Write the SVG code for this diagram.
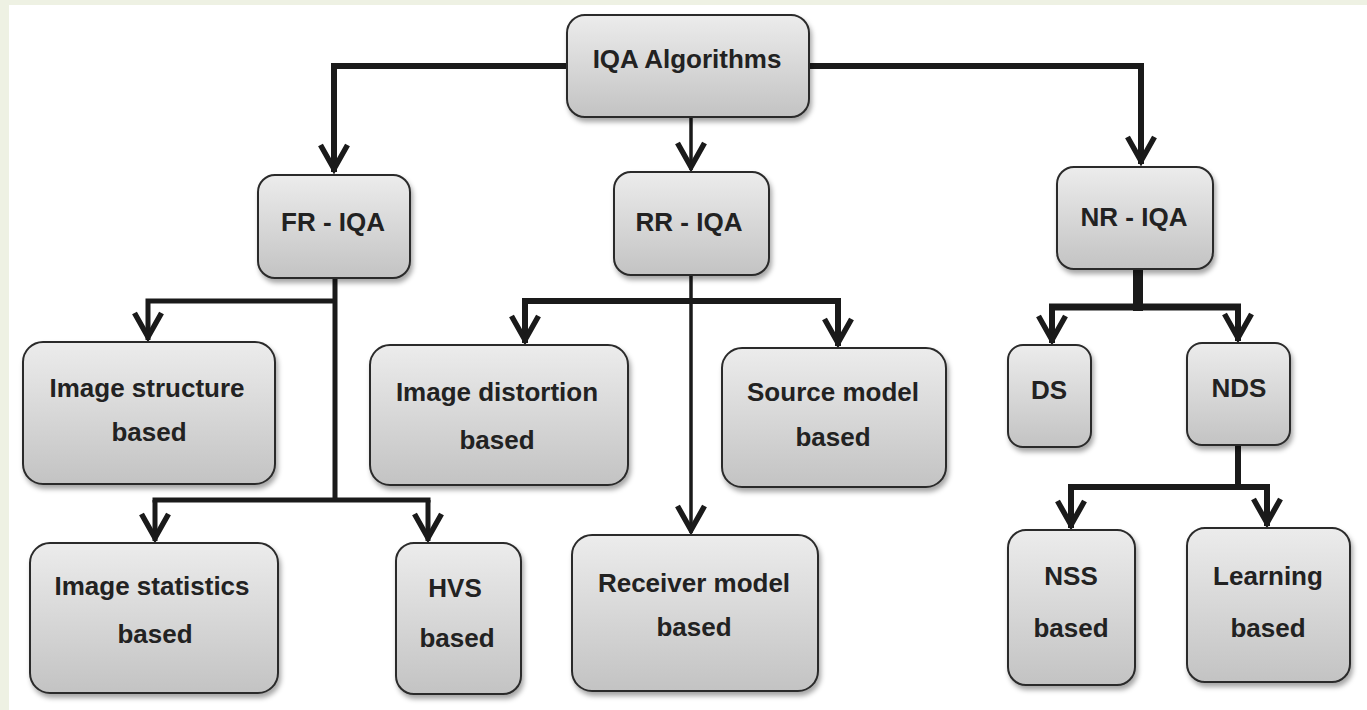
<svg xmlns="http://www.w3.org/2000/svg" width="1367" height="710" viewBox="0 0 1367 710">
<defs>
<linearGradient id="g" x1="0" y1="0" x2="0" y2="1">
<stop offset="0" stop-color="#ececec"/>
<stop offset="1" stop-color="#c3c3c3"/>
</linearGradient>
<filter id="sh" x="-10%" y="-10%" width="125%" height="130%">
<feDropShadow dx="2" dy="4" stdDeviation="2.5" flood-color="#000" flood-opacity="0.35"/>
</filter>
<marker id="arr" markerUnits="userSpaceOnUse" markerWidth="44" markerHeight="44" viewBox="-36 -22 44 44" refX="0" refY="0" orient="auto">
<path d="M-27,-13.5 L-3,0 L-27,13.5" fill="none" stroke="#1a1a1a" stroke-width="5.5" stroke-linejoin="miter"/>
</marker>
<style>
.box{fill:url(#g);stroke:#2b2b2b;stroke-width:2;filter:url(#sh)}
.t{font-family:"Liberation Sans",Arial,sans-serif;font-weight:bold;font-size:26px;fill:#222;text-anchor:middle}
.c{fill:none;stroke:#1a1a1a;stroke-linejoin:miter}
</style>
</defs>
<rect width="1367" height="710" fill="#ffffff"/>
<rect width="1367" height="5" fill="#eef1e3"/>
<rect width="9" height="710" fill="#eef1e3"/>

<g id="connectors">
<path class="c" stroke-width="6" d="M568,66 H334 V172" marker-end="url(#arr)"/>
<path class="c" stroke-width="6" d="M808,66 H1141 V164" marker-end="url(#arr)"/>
<path class="c" stroke-width="3.5" d="M691,117 V170" marker-end="url(#arr)"/>

<path class="c" stroke-width="5" d="M335,278 V502"/>
<path class="c" stroke-width="5" d="M337,301 H148 V340" marker-end="url(#arr)"/>
<path class="c" stroke-width="5" d="M152.5,500 H430.5"/>
<path class="c" stroke-width="5" d="M155,500 V541" marker-end="url(#arr)"/>
<path class="c" stroke-width="5" d="M428,500 V541" marker-end="url(#arr)"/>

<path class="c" stroke-width="3.5" d="M691,275 V533" marker-end="url(#arr)"/>
<path class="c" stroke-width="6" d="M522,301 H841"/>
<path class="c" stroke-width="6" d="M525,301 V343" marker-end="url(#arr)"/>
<path class="c" stroke-width="6" d="M838,301 V346" marker-end="url(#arr)"/>

<path class="c" stroke-width="10" d="M1138,269 V311"/>
<path class="c" stroke-width="7" d="M1049,307 H1241"/>
<path class="c" stroke-width="6" d="M1052,307 V343" marker-end="url(#arr)"/>
<path class="c" stroke-width="6" d="M1238,307 V341" marker-end="url(#arr)"/>

<path class="c" stroke-width="6" d="M1238,445 V487"/>
<path class="c" stroke-width="6" d="M1068,487 H1270"/>
<path class="c" stroke-width="6" d="M1071,487 V528" marker-end="url(#arr)"/>
<path class="c" stroke-width="6" d="M1267,487 V526" marker-end="url(#arr)"/>
</g>

<g id="iqa"><rect class="box" x="567" y="15" width="242" height="102" rx="18"/><text class="t" x="687" y="68">IQA Algorithms</text></g>
<g id="fr"><rect class="box" x="258" y="175" width="152" height="103" rx="17"/><text class="t" x="333" y="231">FR - IQA</text></g>
<g id="rr"><rect class="box" x="614" y="172" width="155" height="103" rx="17"/><text class="t" x="689" y="231">RR - IQA</text></g>
<g id="nr"><rect class="box" x="1057" y="167" width="156" height="102" rx="17"/><text class="t" x="1134" y="226">NR - IQA</text></g>

<g id="img-structure"><rect class="box" x="23" y="342" width="252" height="142" rx="20"/><text class="t" x="147" y="397">Image structure</text><text class="t" x="149" y="441">based</text></g>
<g id="img-distortion"><rect class="box" x="370" y="345" width="258" height="140" rx="20"/><text class="t" x="497" y="401">Image distortion</text><text class="t" x="497" y="449">based</text></g>
<g id="source-model"><rect class="box" x="722" y="348" width="224" height="139" rx="20"/><text class="t" x="833" y="401">Source model</text><text class="t" x="833" y="446">based</text></g>

<g id="img-statistics"><rect class="box" x="30" y="543" width="248" height="150" rx="20"/><text class="t" x="152" y="595">Image statistics</text><text class="t" x="155" y="643">based</text></g>
<g id="hvs"><rect class="box" x="396" y="543" width="125" height="151" rx="18"/><text class="t" x="455" y="597">HVS</text><text class="t" x="457" y="647">based</text></g>
<g id="receiver-model"><rect class="box" x="572" y="535" width="246" height="156" rx="20"/><text class="t" x="694" y="592">Receiver model</text><text class="t" x="694" y="636">based</text></g>

<g id="ds"><rect class="box" x="1008" y="345" width="83" height="102" rx="15"/><text class="t" x="1049" y="399">DS</text></g>
<g id="nds"><rect class="box" x="1187" y="343" width="103" height="102" rx="15"/><text class="t" x="1239" y="397">NDS</text></g>
<g id="nss"><rect class="box" x="1008" y="530" width="127" height="155" rx="18"/><text class="t" x="1071" y="585">NSS</text><text class="t" x="1071" y="637">based</text></g>
<g id="learning"><rect class="box" x="1187" y="528" width="163" height="154" rx="18"/><text class="t" x="1268" y="585">Learning</text><text class="t" x="1268" y="637">based</text></g>
</svg>
